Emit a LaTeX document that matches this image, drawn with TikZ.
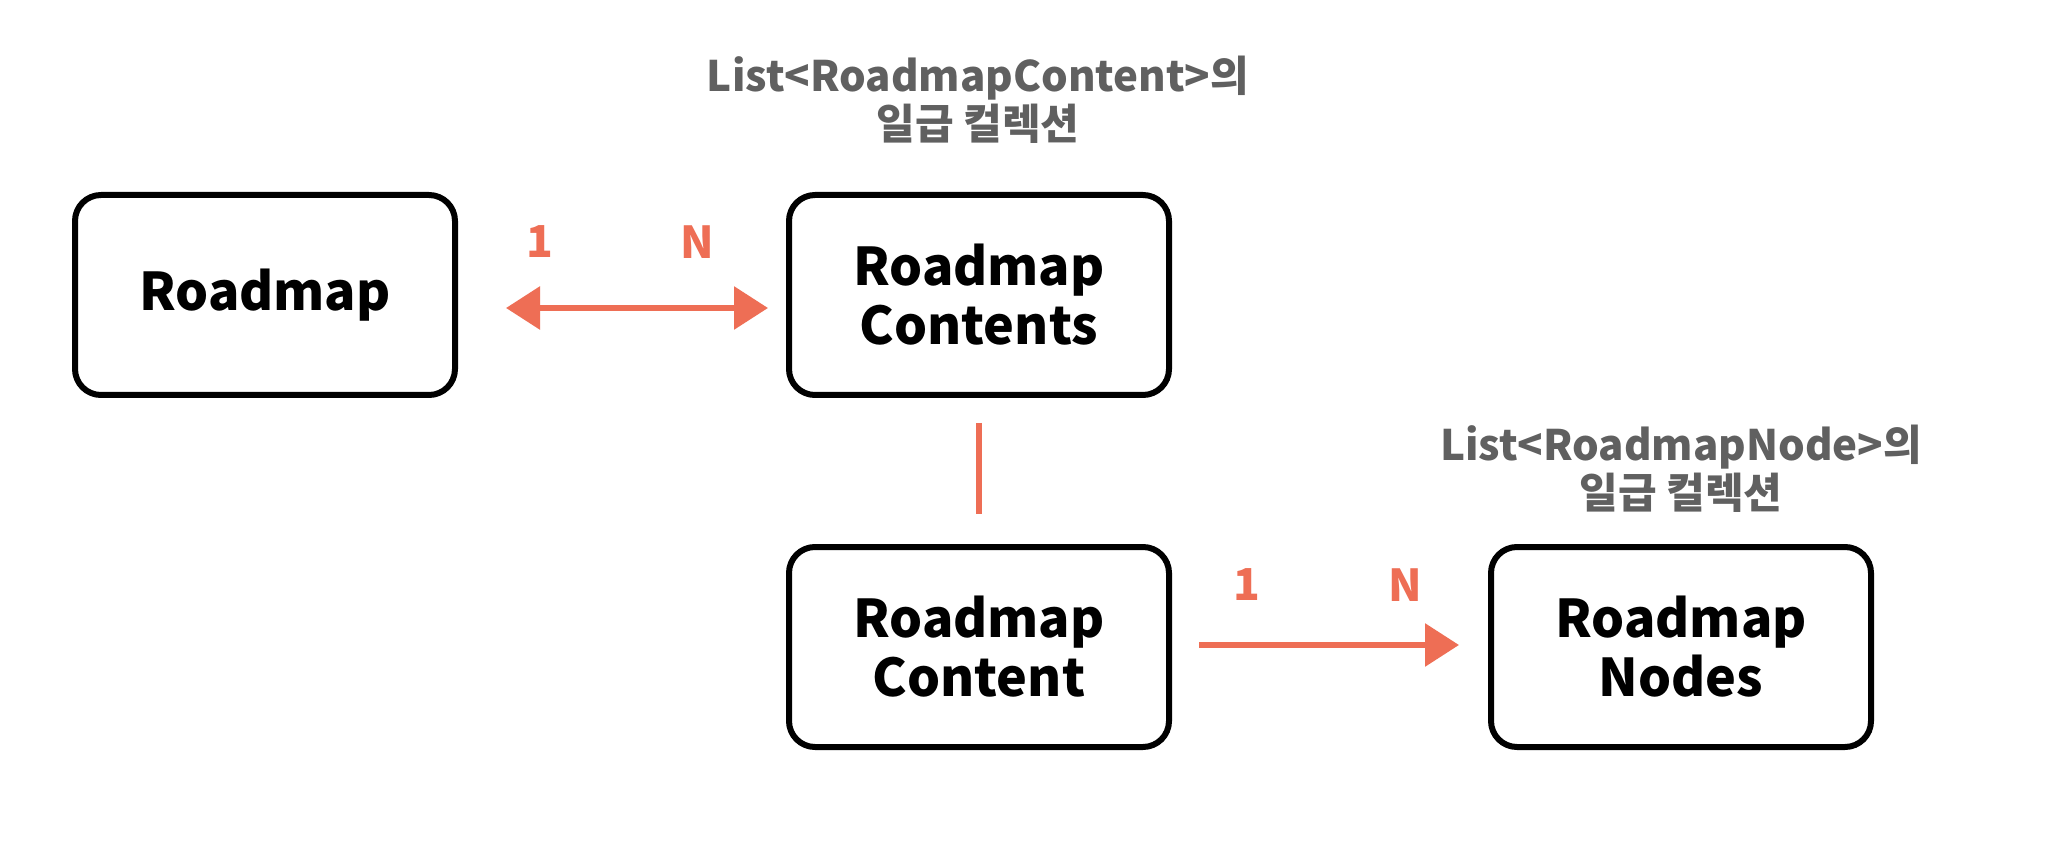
\documentclass[tikz,border=0pt]{standalone}
\usepackage{fontspec}
\setmainfont{Noto Sans CJK KR}
\usetikzlibrary{arrows.meta}
\definecolor{redc}{RGB}{238,110,85}
\definecolor{graytxt}{RGB}{96,96,96}
\begin{document}
\begin{tikzpicture}[x=0.5pt,y=-0.5pt,
  box/.style={draw=black, line width=3pt, rounded corners=13pt,
    minimum width=190pt, minimum height=100pt, inner sep=0pt, align=center,
    font=\fontsize{26}{29.5}\selectfont\bfseries, text=black},
  lbl/.style={text=graytxt, align=center, inner sep=0pt,
    font=\fontsize{21}{24}\selectfont\bfseries},
  num/.style={text=redc, inner sep=0pt, font=\fontsize{22}{22}\selectfont\bfseries},
  conn/.style={draw=redc, line width=3pt},
  tipa/.style={-{Triangle[length=17pt,width=21pt]}},
  tipb/.style={{Triangle[length=17pt,width=21pt]}-{Triangle[length=17pt,width=21pt]}}]
\fill[white] (0,0) rectangle (2066,844);
\node[box] (rm)  at (265,295) {Roadmap};
\node[box] (rcs) at (979,295) {Roadmap\\Contents};
\node[box] (rc)  at (979,647) {Roadmap\\Content};
\node[box] (rn)  at (1681,647) {Roadmap\\Nodes};
\node[lbl] (l1) at (978,100) {List<RoadmapContent>의\\일급 컬렉션};
\node[lbl] (l2) at (1681,469) {List<RoadmapNode>의\\일급 컬렉션};
\node[num] (n1) at (540,242) {1};
\node[num] (n2) at (697,242) {N};
\node[num] (n3) at (1247,585) {1};
\node[num] (n4) at (1405,585) {N};
\draw[conn, tipb, shorten <=24pt, shorten >=9pt] ([yshift=-6.5pt]rm.east) -- ([yshift=-6.5pt]rcs.west);
\draw[conn, shorten <=12.5pt, shorten >=15pt] (rcs.south) -- (rc.north);
\draw[conn, tipa, shorten <=13.5pt, shorten >=14.5pt] ([yshift=1pt]rc.east) -- ([yshift=1pt]rn.west);
\end{tikzpicture}
\end{document}
